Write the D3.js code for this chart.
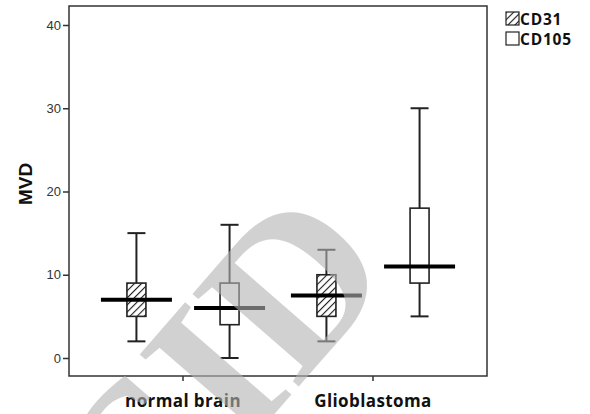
<!DOCTYPE html>
<html>
<head>
  <script src="https://d3js.org/d3.v7.min.js"></script>
  <style>
    body { margin: 0; background: #fff; }
    svg { display: block; font-family: "Liberation Sans", Arial, sans-serif; }
  </style>
</head>
<body>
  <svg width="590" height="414"></svg>
  <script>
    var groups = ["normal brain", "Glioblastoma"];
    var markers = ["CD31", "CD105"];
    var yTicks = [0, 10, 20, 30, 40];
    // [low whisker, q1, median, q3, high whisker]
    var cd31 = [[2, 5, 7, 9, 15], [2, 5, 7.5, 10, 13]];
    var cd105 = [[0, 4, 6, 9, 16], [5, 9, 11, 18, 30]];

    var svg = d3.select("svg");
    var frame = { left: 69, right: 487, top: 6, bottom: 376 };

    var defs = svg.append("defs");
    var pat = defs.append("pattern")
      .attr("id", "hatch")
      .attr("patternUnits", "userSpaceOnUse")
      .attr("width", 5).attr("height", 5)
      .attr("patternTransform", "rotate(45)");
    pat.append("rect").attr("width", 5).attr("height", 5).attr("fill", "#fff");
    pat.append("line").attr("x1", 0).attr("y1", 0).attr("x2", 0).attr("y2", 5)
      .attr("stroke", "#222").attr("stroke-width", 2.2);

    var y = d3.scaleLinear().domain([0, 40]).range([358, 25]);
    var x = d3.scaleBand().domain(groups).range([88, 468]).padding(0);
    var sub = d3.scaleBand().domain(markers).range([0, x.bandwidth()]).paddingInner(0).paddingOuter(0.02);

    // frame
    svg.append("rect").attr("x", frame.left).attr("y", frame.top)
      .attr("width", frame.right - frame.left).attr("height", frame.bottom - frame.top)
      .attr("fill", "none").attr("stroke", "#333").attr("stroke-width", 1.5);

    // y axis
    var yAxis = svg.append("g").attr("transform", "translate(" + frame.left + ",0)")
      .call(d3.axisLeft(y).tickValues(yTicks).tickSize(6).tickPadding(2));
    yAxis.select(".domain").remove();
    yAxis.selectAll("line").attr("stroke", "#333").attr("stroke-width", 1.5);
    yAxis.selectAll("text").attr("font-size", 13).attr("fill", "#333")
      .attr("font-family", "Liberation Sans, Arial, sans-serif");

    // x axis
    var xAxis = svg.append("g").attr("transform", "translate(0," + frame.bottom + ")")
      .call(d3.axisBottom(x).tickSize(5).tickPadding(14));
    xAxis.select(".domain").remove();
    xAxis.selectAll("line").attr("stroke", "#333").attr("stroke-width", 1.5);
    xAxis.selectAll("text").attr("font-size", 17).attr("font-weight", "bold")
      .attr("letter-spacing", 0.4)
      .attr("fill", "#111").attr("font-family", "Open Sans, sans-serif");

    svg.append("text")
      .attr("transform", "translate(32,184) rotate(-90)")
      .attr("text-anchor", "middle")
      .attr("font-size", 19).attr("font-weight", "bold").attr("fill", "#111")
      .text("MVD");

    var boxW = 19, capW = 18, medW = 71;
    function drawBoxes(data, marker, fill) {
      var g = svg.append("g");
      data.forEach(function (d, i) {
        var cx = x(groups[i]) + sub(marker) + sub.bandwidth() / 2;
        g.append("line").attr("x1", cx).attr("x2", cx)
          .attr("y1", y(d[0])).attr("y2", y(d[4]))
          .attr("stroke", "#222").attr("stroke-width", 2);
        [d[0], d[4]].forEach(function (v) {
          g.append("line").attr("x1", cx - capW / 2).attr("x2", cx + capW / 2)
            .attr("y1", y(v)).attr("y2", y(v))
            .attr("stroke", "#222").attr("stroke-width", 2);
        });
        g.append("rect").attr("x", cx - boxW / 2).attr("y", y(d[3]))
          .attr("width", boxW).attr("height", y(d[1]) - y(d[3]))
          .attr("fill", fill).attr("stroke", "#222").attr("stroke-width", 1.6);
        g.append("line").attr("x1", cx - medW / 2).attr("x2", cx + medW / 2)
          .attr("y1", y(d[2])).attr("y2", y(d[2]))
          .attr("stroke", "#000").attr("stroke-width", 4);
      });
    }
    drawBoxes(cd31, "CD31", "url(#hatch)");
    drawBoxes(cd105, "CD105", "#fff");

    // legend
    var legend = svg.append("g").attr("transform", "translate(506,12)");
    markers.forEach(function (m, i) {
      var row = legend.append("g").attr("transform", "translate(0," + (i * 20) + ")");
      row.append("rect").attr("width", 13).attr("height", 13)
        .attr("fill", i === 0 ? "url(#hatch)" : "#fff")
        .attr("stroke", "#222").attr("stroke-width", 1.2);
      row.append("text").attr("x", 14).attr("y", 13)
        .attr("font-size", 15.5).attr("font-weight", "bold").attr("fill", "#111")
        .attr("letter-spacing", 0.8)
        .attr("font-family", "Open Sans, sans-serif")
        .text(m);
    });

    // watermark
    svg.append("text")
      .attr("transform", "translate(398,272) rotate(-49)")
      .attr("text-anchor", "end")
      .attr("font-family", "Liberation Serif, DejaVu Serif, serif")
      .attr("font-weight", "bold")
      .attr("font-size", 215)
      .attr("fill", "#b4b4b4").attr("opacity", 0.6)
      .text("SID");
  </script>
</body>
</html>
